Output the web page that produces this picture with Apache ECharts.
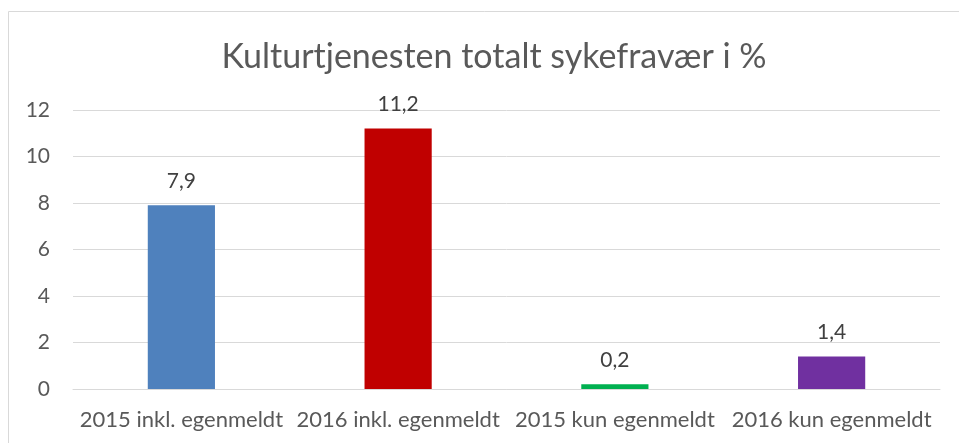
<!DOCTYPE html>
<html><head><meta charset="utf-8">
<script src="https://cdn.jsdelivr.net/npm/echarts@6/dist/echarts.min.js"></script>
<style>html,body{margin:0;padding:0;background:#fff}#c{width:959px;height:443px}</style>
</head><body><div id="c"></div>
<script>
const categories = ['2015 inkl. egenmeldt','2016 inkl. egenmeldt','2015 kun egenmeldt','2016 kun egenmeldt'];
const values = [7.9, 11.2, 0.2, 1.4];
const colors = ['#4f81bd','#c00000','#00b050','#7030a0'];
const yTicks = [0,2,4,6,8,10,12];
const FONT = 'Lato, "Open Sans", sans-serif';
const chart = echarts.init(document.getElementById('c'), null, {renderer:'canvas'});
chart.setOption({
  animation:false,
  title:{text:'Kulturtjenesten totalt sykefravær i %', left:489, top:35, textAlign:'center',
    textStyle:{fontFamily:FONT,fontSize:34,fontWeight:'normal',color:'#595959'}},
  graphic:[{type:'rect',shape:{x:8.5,y:11.5,width:960,height:440},style:{fill:'none',stroke:'#d9d9d9',lineWidth:1},silent:true}],
  grid:{left:73,right:19,top:110,bottom:54},
  xAxis:{type:'category',data:categories,
    axisLine:{lineStyle:{color:'#d9d9d9',width:1}},axisTick:{show:false},
    axisLabel:{fontFamily:FONT,fontSize:22,color:'#595959',margin:20,interval:0}},
  yAxis:{type:'value',min:yTicks[0],max:yTicks[yTicks.length-1],interval:2,
    axisLine:{show:false},axisTick:{show:false},
    splitLine:{lineStyle:{color:'#d9d9d9',width:1}},
    axisLabel:{fontFamily:FONT,fontSize:21,color:'#595959',margin:23}},
  series:[{type:'bar',barWidth:'31%',
    data:values.map((v,i)=>({value:v,itemStyle:{color:colors[i]}})),
    label:{show:true,position:'top',distance:14,fontFamily:FONT,fontSize:21,color:'#404040',
      formatter:p=>String(p.value).replace('.',',')}}]
});
</script></body></html>
